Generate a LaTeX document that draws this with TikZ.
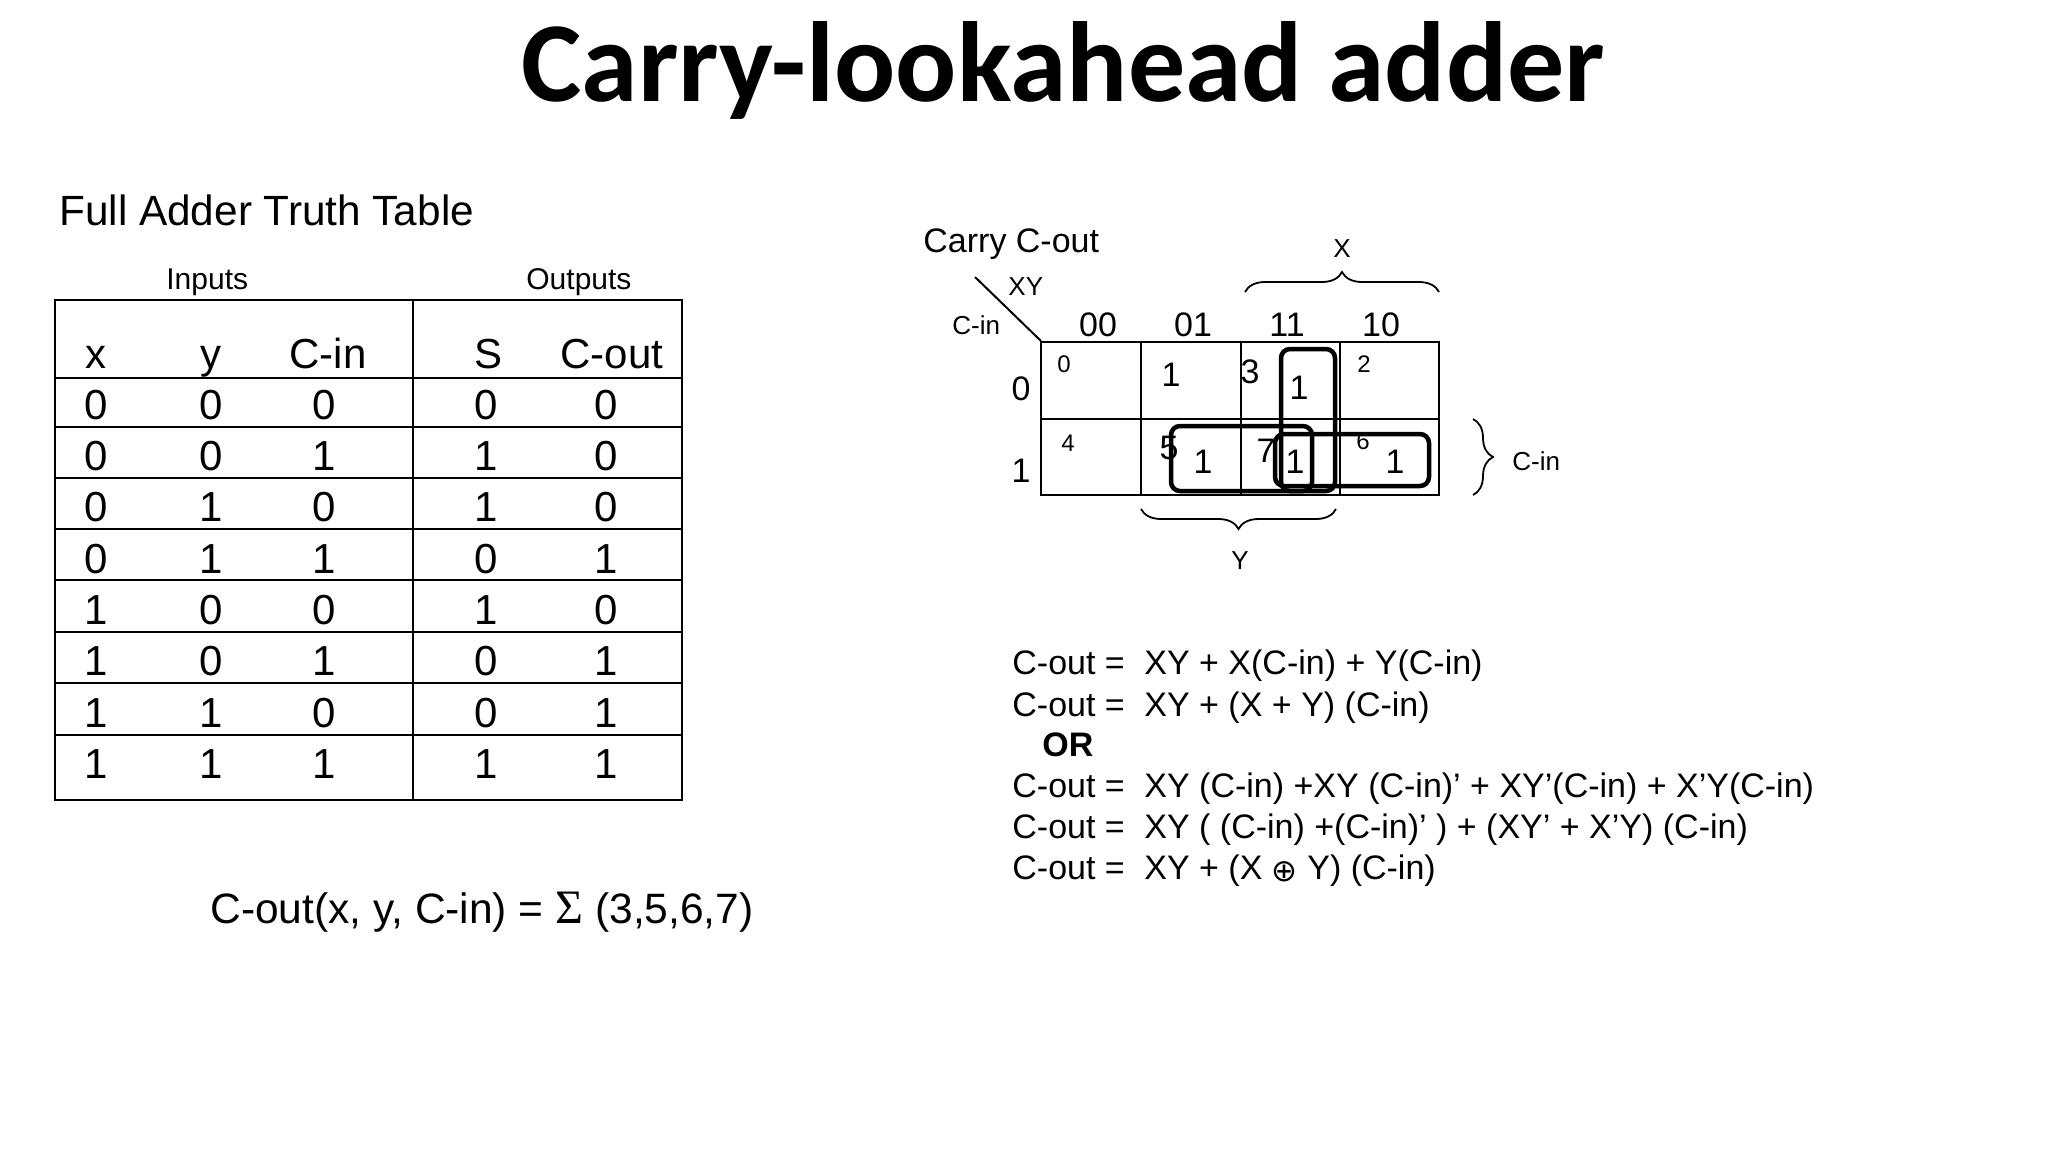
\documentclass[tikz,border=0pt]{standalone}
\usepackage{fontspec}
\setmainfont{Liberation Sans}
\newfontfamily\titlefont{Carlito}
\newfontfamily\sumfont{Liberation Serif}
\newfontfamily\xorfont{DejaVu Sans}
\usetikzlibrary{decorations.pathreplacing}
\newcommand{\fsz}[1]{\fontsize{#1}{#1}\selectfont}

\begin{document}
\begin{tikzpicture}
	[x = 1pt, y = -1pt, thick,
	txt/.style = {inner sep = 0pt, anchor = base west},
	cell/.style = {inner sep = 0pt, anchor = base, font = \fsz{42}},
	eq/.style = {txt, font = \fsz{34}},
	kmap/.style = {inner sep = 0pt, anchor = base, font = \fsz{34}},
	idx/.style = {inner sep = 0pt, anchor = base, font = \fsz{24}},
	small/.style = {inner sep = 0pt, anchor = base, font = \fsz{26}},
	group/.style = {line width = 4.5pt, rounded corners = 9pt},
	tline/.style = {line width = 2.5pt},
	gline/.style = {line width = 2pt},
	brace/.style = {line width = 1.8pt, decorate, decoration = {brace, amplitude = 20pt}}]
	\useasboundingbox (0,0) rectangle (2048,1152);
	\node[txt, font = \titlefont\bfseries\fsz{114}] (title) at (521,101) {Carry-lookahead adder};
	\node[txt, font = \fsz{42.3}] (tabletitle) at (59,225) {Full Adder Truth Table};
	\node[txt, font = \fsz{30}] (inputs) at (166,289) {Inputs};
	\node[txt, font = \fsz{30}] (outputs) at (526,289) {Outputs};
	% truth table
	\draw[tline] (55,300) rectangle (682,800);
	\draw[tline] (413,300) -- (413,800);
	\draw[tline] (55,378) -- (682,378);
	\draw[tline] (55,427) -- (682,427);
	\draw[tline] (55,478) -- (682,478);
	\draw[tline] (55,529) -- (682,529);
	\draw[tline] (55,580) -- (682,580);
	\draw[tline] (55,632) -- (682,632);
	\draw[tline] (55,683) -- (682,683);
	\draw[tline] (55,735) -- (682,735);
	\node[cell] (hx) at (96,368) {x};
	\node[cell] (hy) at (211,368) {y};
	\node[cell] (hc) at (328,368) {C-in};
	\node[cell] (hs) at (489,368) {S};
	\node[cell] (ho) at (612,368) {C-out};
	\node[cell] (x1) at (96,419) {0};
	\node[cell] (y1) at (211,419) {0};
	\node[cell] (c1) at (324,419) {0};
	\node[cell] (s1) at (486,419) {0};
	\node[cell] (o1) at (606,419) {0};
	\node[cell] (x2) at (96,470) {0};
	\node[cell] (y2) at (211,470) {0};
	\node[cell] (c2) at (324,470) {1};
	\node[cell] (s2) at (486,470) {1};
	\node[cell] (o2) at (606,470) {0};
	\node[cell] (x3) at (96,521) {0};
	\node[cell] (y3) at (211,521) {1};
	\node[cell] (c3) at (324,521) {0};
	\node[cell] (s3) at (486,521) {1};
	\node[cell] (o3) at (606,521) {0};
	\node[cell] (x4) at (96,573) {0};
	\node[cell] (y4) at (211,573) {1};
	\node[cell] (c4) at (324,573) {1};
	\node[cell] (s4) at (486,573) {0};
	\node[cell] (o4) at (606,573) {1};
	\node[cell] (x5) at (96,624) {1};
	\node[cell] (y5) at (211,624) {0};
	\node[cell] (c5) at (324,624) {0};
	\node[cell] (s5) at (486,624) {1};
	\node[cell] (o5) at (606,624) {0};
	\node[cell] (x6) at (96,675) {1};
	\node[cell] (y6) at (211,675) {0};
	\node[cell] (c6) at (324,675) {1};
	\node[cell] (s6) at (486,675) {0};
	\node[cell] (o6) at (606,675) {1};
	\node[cell] (x7) at (96,727) {1};
	\node[cell] (y7) at (211,727) {1};
	\node[cell] (c7) at (324,727) {0};
	\node[cell] (s7) at (486,727) {0};
	\node[cell] (o7) at (606,727) {1};
	\node[cell] (x8) at (96,778) {1};
	\node[cell] (y8) at (211,778) {1};
	\node[cell] (c8) at (324,778) {1};
	\node[cell] (s8) at (486,778) {1};
	\node[cell] (o8) at (606,778) {1};
	\node[txt, font = \fsz{42.5}] (func) at (210,923) {C-out(x, y, C-in) = {\sumfont\fsz{48}Σ} (3,5,6,7)};
	% karnaugh map
	\node[txt, font = \fsz{34}] (maptitle) at (923,252) {Carry C-out};
	\coordinate (diaga) at (975,277);
	\coordinate (diagb) at (1041,341);
	\draw[gline] (diaga) -- (diagb);
	\node[txt, font = \fsz{26}] (xy) at (1008,295) {XY};
	\node[txt, font = \fsz{26}] (cinl) at (952,334) {C-in};
	\draw[gline] (1041,342) rectangle (1439,495);
	\draw[gline] (1041,419) -- (1439,419);
	\draw[gline] (1141,342) -- (1141,495);
	\draw[gline] (1241,342) -- (1241,495);
	\draw[gline] (1340,342) -- (1340,495);
	\node[kmap] (h00) at (1098,336) {00};
	\node[kmap] (h01) at (1193,336) {01};
	\node[kmap] (h11) at (1287,336) {11};
	\node[kmap] (h10) at (1381,336) {10};
	\node[kmap] (r0) at (1021,400) {0};
	\node[kmap] (r1) at (1021,482) {1};
	\node[idx] (m0) at (1064,372) {0};
	\node[idx] (m2) at (1364,372) {2};
	\node[idx] (m4) at (1068,451) {4};
	\node[idx] (m6) at (1363,449) {6};
	\node[kmap] (m1) at (1171,386) {1};
	\node[kmap] (m3) at (1250,383) {3};
	\node[kmap] (m5) at (1169,459) {5};
	\node[kmap] (m7) at (1266,462) {7};
	\node[kmap] (v3) at (1299,399) {1};
	\node[kmap] (v5) at (1203,473) {1};
	\node[kmap] (v7) at (1295,473) {1};
	\node[kmap] (v6) at (1395,473) {1};
	\draw[group] (1281,349) rectangle (1335,491);
	\draw[group] (1171,426) rectangle (1312,491);
	\draw[group] (1275,434) rectangle (1429,486);
	\coordinate (bxa) at (1245,292);
	\coordinate (bxb) at (1439,292);
	\coordinate (bya) at (1336,509);
	\coordinate (byb) at (1141,509);
	\coordinate (bca) at (1473,419);
	\coordinate (bcb) at (1473,495);
	\draw[brace] (bxa) -- (bxb);
	\draw[brace] (bya) -- (byb);
	\draw[brace] (bca) -- (bcb);
	\node[small] (xlabel) at (1342,257) {X};
	\node[small] (ylabel) at (1240,569) {Y};
	\node[txt, font = \fsz{26}] (cinr) at (1512,470) {C-in};
	% equations
	\node[eq] (l1) at (1012,674) {C-out =};
	\node[eq] (e1) at (1144,674) {XY + X(C-in) + Y(C-in)};
	\node[eq] (l2) at (1012,716) {C-out =};
	\node[eq] (e2) at (1144,716) {XY + (X + Y) (C-in)};
	\node[eq, font = \bfseries\fsz{34}] (or) at (1042,756) {OR};
	\node[eq] (l3) at (1012,797) {C-out =};
	\node[eq] (e3) at (1144,797) {XY (C-in) +XY (C-in)’ + XY’(C-in) + X’Y(C-in)};
	\node[eq] (l4) at (1012,838) {C-out =};
	\node[eq] (e4) at (1144,838) {XY ( (C-in) +(C-in)’ ) + (XY’ + X’Y) (C-in)};
	\node[eq] (l5) at (1012,879) {C-out =};
	\node[eq] (e5) at (1144,879) {XY + (X \raisebox{-2pt}{\xorfont\fsz{31}⊕} Y) (C-in)};
\end{tikzpicture}
\end{document}
